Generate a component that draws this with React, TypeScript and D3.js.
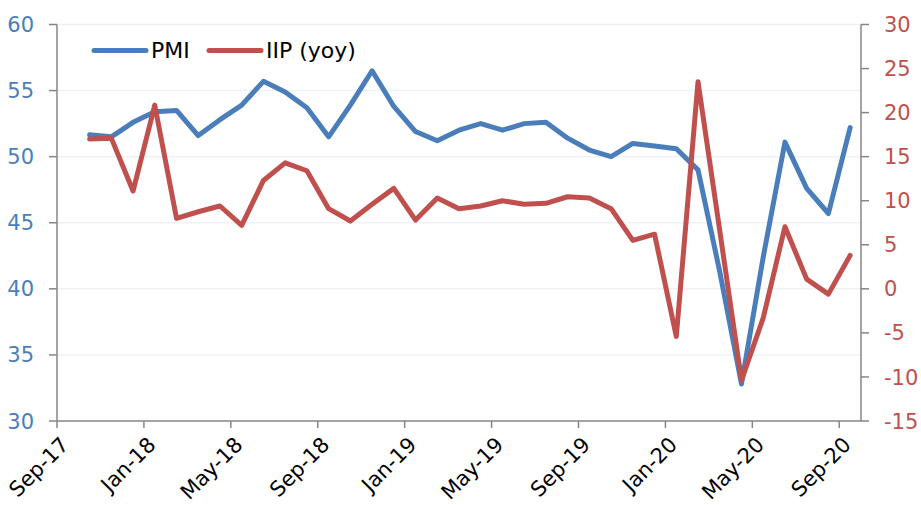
import React, { useEffect, useRef } from "react"
import * as d3 from "d3"

// monthly points Oct-17 .. Sep-20
const pmi = [
  51.65, 51.5, 52.6, 53.4, 53.5, 51.6, 52.8, 53.9, 55.7, 54.9, 53.7, 51.5,
  53.9, 56.5, 53.8, 51.9, 51.2, 52.0, 52.5, 52.0, 52.5, 52.6, 51.4, 50.5,
  50.0, 51.0, 50.8, 50.6, 49.0, 41.3, 32.8, 42.4, 51.1, 47.6, 45.7, 52.2,
]
const iip = [
  17.0, 17.1, 11.1, 20.85, 8.0, 8.75, 9.4, 7.2, 12.3, 14.3, 13.4, 9.1,
  7.7, 9.6, 11.4, 7.8, 10.3, 9.1, 9.4, 10.0, 9.6, 9.7, 10.45, 10.3,
  9.1, 5.5, 6.2, -5.4, 23.5, 6.6, -10.4, -3.3, 7.05, 1.1, -0.6, 3.8,
]
const tickLabels = [
  "Sep-17", "Jan-18", "May-18", "Sep-18", "Jan-19",
  "May-19", "Sep-19", "Jan-20", "May-20", "Sep-20",
]
const leftTicks = [30, 35, 40, 45, 50, 55, 60]
const rightTicks = [-15, -10, -5, 0, 5, 10, 15, 20, 25, 30]

const BLUE = "#4a7ebb"
const RED = "#c0504d"
const FONT = "DejaVu Sans, Verdana, sans-serif"

const App = () => {
  const ref = useRef<SVGSVGElement>(null)
  const width = 921
  const height = 505

  useEffect(() => {
    const svg = d3.select(ref.current)
    svg.selectAll("*").remove()

    const left = 57
    const right = 861
    const top = 24.5
    const bottom = 421

    // month index: 0 = start of Sep-17, points sit mid-month
    const x = d3.scaleLinear().domain([0, 37]).range([left, right])
    const yL = d3.scaleLinear().domain([30, 60]).range([bottom, top])
    const yR = d3.scaleLinear().domain([-15, 30]).range([bottom, top])

    // gridlines
    svg
      .append("g")
      .selectAll("line")
      .data(leftTicks.slice(1))
      .join("line")
      .attr("x1", left)
      .attr("x2", right)
      .attr("y1", (d) => yL(d))
      .attr("y2", (d) => yL(d))
      .attr("stroke", "#eef2f7")
      .attr("stroke-width", 1.5)

    const axisColor = "#868686"

    // left axis
    const gL = svg.append("g")
    gL.append("line")
      .attr("x1", left).attr("x2", left)
      .attr("y1", top).attr("y2", bottom)
      .attr("stroke", axisColor).attr("stroke-width", 1.5)
    gL.selectAll(".tk")
      .data(leftTicks)
      .join("line")
      .attr("x1", left - 8).attr("x2", left)
      .attr("y1", (d) => yL(d)).attr("y2", (d) => yL(d))
      .attr("stroke", axisColor).attr("stroke-width", 1.5)
    gL.selectAll("text")
      .data(leftTicks)
      .join("text")
      .attr("x", 34)
      .attr("y", (d) => yL(d))
      .attr("dy", "0.36em")
      .attr("text-anchor", "end")
      .attr("fill", BLUE)
      .style("font-family", FONT)
      .style("font-size", "21px")
      .text((d) => d)

    // right axis
    const gR = svg.append("g")
    gR.append("line")
      .attr("x1", right).attr("x2", right)
      .attr("y1", top).attr("y2", bottom)
      .attr("stroke", axisColor).attr("stroke-width", 1.5)
    gR.selectAll(".tk")
      .data(rightTicks)
      .join("line")
      .attr("x1", right).attr("x2", right + 8)
      .attr("y1", (d) => yR(d)).attr("y2", (d) => yR(d))
      .attr("stroke", axisColor).attr("stroke-width", 1.5)
    gR.selectAll("text")
      .data(rightTicks)
      .join("text")
      .attr("x", 884)
      .attr("y", (d) => yR(d))
      .attr("dy", "0.36em")
      .attr("fill", RED)
      .style("font-family", FONT)
      .style("font-size", "21px")
      .text((d) => d)

    // bottom axis
    const gB = svg.append("g")
    gB.append("line")
      .attr("x1", left).attr("x2", right)
      .attr("y1", bottom).attr("y2", bottom)
      .attr("stroke", axisColor).attr("stroke-width", 1.5)
    gB.selectAll(".tk")
      .data(tickLabels)
      .join("line")
      .attr("x1", (_, i) => x(i * 4)).attr("x2", (_, i) => x(i * 4))
      .attr("y1", bottom).attr("y2", bottom + 7)
      .attr("stroke", axisColor).attr("stroke-width", 1.5)
    gB.selectAll("text")
      .data(tickLabels)
      .join("text")
      .attr("transform", (_, i) => `translate(${x(i * 4) + 13}, 446) rotate(-45)`)
      .attr("text-anchor", "end")
      .attr("fill", "#000")
      .style("font-family", FONT)
      .style("font-size", "21px")
      .text((d) => d)

    // lines
    const lineL = d3
      .line<number>()
      .x((_, i) => x(i + 1.5))
      .y((d) => yL(d))
    const lineR = d3
      .line<number>()
      .x((_, i) => x(i + 1.5))
      .y((d) => yR(d))

    svg.append("path")
      .datum(pmi)
      .attr("d", lineL)
      .attr("fill", "none")
      .attr("stroke", BLUE)
      .attr("stroke-width", 5)
      .attr("stroke-linejoin", "round")
      .attr("stroke-linecap", "round")

    svg.append("path")
      .datum(iip)
      .attr("d", lineR)
      .attr("fill", "none")
      .attr("stroke", RED)
      .attr("stroke-width", 5)
      .attr("stroke-linejoin", "round")
      .attr("stroke-linecap", "round")

    // legend
    const legend = [
      { label: "PMI", color: BLUE, x0: 94 },
      { label: "IIP (yoy)", color: RED, x0: 209 },
    ]
    const lg = svg.append("g")
    legend.forEach((d) => {
      lg.append("line")
        .attr("x1", d.x0).attr("x2", d.x0 + 52)
        .attr("y1", 50.5).attr("y2", 50.5)
        .attr("stroke", d.color)
        .attr("stroke-width", 5)
        .attr("stroke-linecap", "round")
      lg.append("text")
        .attr("x", d.x0 + 57)
        .attr("y", 50.5)
        .attr("dy", "0.36em")
        .attr("fill", "#000")
        .style("font-family", FONT)
        .style("font-size", "22px")
        .text(d.label)
    })
  }, [])

  return (
    <svg
      ref={ref}
      width={width}
      height={height}
      style={{ position: "absolute", left: 0, top: 0, background: "#fff" }}
    />
  )
}

export default App
